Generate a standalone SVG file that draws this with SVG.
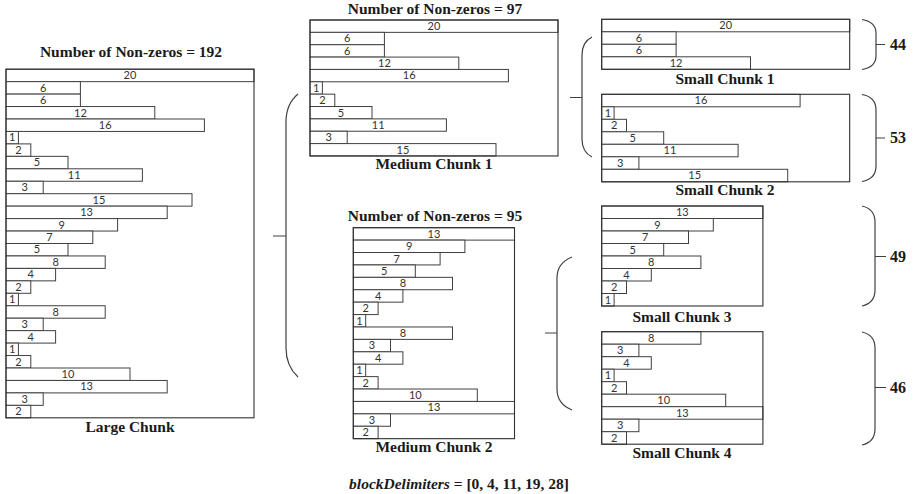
<svg xmlns="http://www.w3.org/2000/svg" width="917" height="494" viewBox="0 0 917 494">
<style>
.bg{fill:#fff}
.bar{fill:#fff;stroke:#404040;stroke-width:1}
.box{fill:none;stroke:#303030;stroke-width:1.1}
.n{font-family:Lato,"Liberation Sans",sans-serif;font-size:11px;fill:#333;text-anchor:middle}
.t{font-family:"Liberation Serif",serif;font-weight:bold;font-size:15.5px;fill:#1a1a1a;text-anchor:middle}
.k{font-family:"Liberation Serif",serif;font-weight:bold;font-size:16px;fill:#1a1a1a}
.br{fill:none;stroke:#404040;stroke-width:1.2}
</style>
<rect class="bg" x="0" y="0" width="917" height="494"/>

<g id="large-chunk">
<text class="t" x="131" y="57">Number of Non-zeros = 192</text>
<g transform="translate(6,69.2)">
<rect class="bar" x="0" y="0" width="248" height="12.45"/><text class="n" x="124" y="10">20</text>
<rect class="bar" x="0" y="12.45" width="74.4" height="12.45"/><text class="n" x="37.2" y="22.45">6</text>
<rect class="bar" x="0" y="24.9" width="74.4" height="12.45"/><text class="n" x="37.2" y="34.9">6</text>
<rect class="bar" x="0" y="37.35" width="148.8" height="12.45"/><text class="n" x="74.4" y="47.35">12</text>
<rect class="bar" x="0" y="49.8" width="198.4" height="12.45"/><text class="n" x="99.2" y="59.8">16</text>
<rect class="bar" x="0" y="62.25" width="12.4" height="12.45"/><text class="n" x="6.2" y="72.25">1</text>
<rect class="bar" x="0" y="74.7" width="24.8" height="12.45"/><text class="n" x="12.4" y="84.7">2</text>
<rect class="bar" x="0" y="87.15" width="62" height="12.45"/><text class="n" x="31" y="97.15">5</text>
<rect class="bar" x="0" y="99.6" width="136.4" height="12.45"/><text class="n" x="68.2" y="109.6">11</text>
<rect class="bar" x="0" y="112.05" width="37.2" height="12.45"/><text class="n" x="18.6" y="122.05">3</text>
<rect class="bar" x="0" y="124.5" width="186" height="12.45"/><text class="n" x="93" y="134.5">15</text>
<rect class="bar" x="0" y="136.95" width="161.2" height="12.45"/><text class="n" x="80.6" y="146.95">13</text>
<rect class="bar" x="0" y="149.4" width="111.6" height="12.45"/><text class="n" x="55.8" y="159.4">9</text>
<rect class="bar" x="0" y="161.85" width="86.8" height="12.45"/><text class="n" x="43.4" y="171.85">7</text>
<rect class="bar" x="0" y="174.3" width="62" height="12.45"/><text class="n" x="31" y="184.3">5</text>
<rect class="bar" x="0" y="186.75" width="99.2" height="12.45"/><text class="n" x="49.6" y="196.75">8</text>
<rect class="bar" x="0" y="199.2" width="49.6" height="12.45"/><text class="n" x="24.8" y="209.2">4</text>
<rect class="bar" x="0" y="211.65" width="24.8" height="12.45"/><text class="n" x="12.4" y="221.65">2</text>
<rect class="bar" x="0" y="224.1" width="12.4" height="12.45"/><text class="n" x="6.2" y="234.1">1</text>
<rect class="bar" x="0" y="236.55" width="99.2" height="12.45"/><text class="n" x="49.6" y="246.55">8</text>
<rect class="bar" x="0" y="249" width="37.2" height="12.45"/><text class="n" x="18.6" y="259">3</text>
<rect class="bar" x="0" y="261.45" width="49.6" height="12.45"/><text class="n" x="24.8" y="271.45">4</text>
<rect class="bar" x="0" y="273.9" width="12.4" height="12.45"/><text class="n" x="6.2" y="283.9">1</text>
<rect class="bar" x="0" y="286.35" width="24.8" height="12.45"/><text class="n" x="12.4" y="296.35">2</text>
<rect class="bar" x="0" y="298.8" width="124" height="12.45"/><text class="n" x="62" y="308.8">10</text>
<rect class="bar" x="0" y="311.25" width="161.2" height="12.45"/><text class="n" x="80.6" y="321.25">13</text>
<rect class="bar" x="0" y="323.7" width="37.2" height="12.45"/><text class="n" x="18.6" y="333.7">3</text>
<rect class="bar" x="0" y="336.15" width="24.8" height="12.45"/><text class="n" x="12.4" y="346.15">2</text>
<rect class="box" x="0" y="0" width="248" height="348.6"/>
</g>
<text class="t" x="130" y="432">Large Chunk</text>
</g>

<g id="medium-chunk-1">
<text class="t" x="435" y="14">Number of Non-zeros = 97</text>
<g transform="translate(310,20)">
<rect class="bar" x="0" y="0" width="248" height="12.36"/><text class="n" x="124" y="10">20</text>
<rect class="bar" x="0" y="12.36" width="74.4" height="12.36"/><text class="n" x="37.2" y="22.36">6</text>
<rect class="bar" x="0" y="24.72" width="74.4" height="12.36"/><text class="n" x="37.2" y="34.72">6</text>
<rect class="bar" x="0" y="37.08" width="148.8" height="12.36"/><text class="n" x="74.4" y="47.08">12</text>
<rect class="bar" x="0" y="49.44" width="198.4" height="12.36"/><text class="n" x="99.2" y="59.44">16</text>
<rect class="bar" x="0" y="61.8" width="12.4" height="12.36"/><text class="n" x="6.2" y="71.8">1</text>
<rect class="bar" x="0" y="74.16" width="24.8" height="12.36"/><text class="n" x="12.4" y="84.16">2</text>
<rect class="bar" x="0" y="86.52" width="62" height="12.36"/><text class="n" x="31" y="96.52">5</text>
<rect class="bar" x="0" y="98.88" width="136.4" height="12.36"/><text class="n" x="68.2" y="108.88">11</text>
<rect class="bar" x="0" y="111.24" width="37.2" height="12.36"/><text class="n" x="18.6" y="121.24">3</text>
<rect class="bar" x="0" y="123.6" width="186" height="12.36"/><text class="n" x="93" y="133.6">15</text>
<rect class="box" x="0" y="0" width="248" height="135.96"/>
</g>
<text class="t" x="434" y="169">Medium Chunk 1</text>
</g>

<g id="medium-chunk-2">
<text class="t" x="435" y="221">Number of Non-zeros = 95</text>
<g transform="translate(353.3,227.7)">
<rect class="bar" x="0" y="0" width="161.2" height="12.41"/><text class="n" x="80.6" y="10">13</text>
<rect class="bar" x="0" y="12.41" width="111.6" height="12.41"/><text class="n" x="55.8" y="22.41">9</text>
<rect class="bar" x="0" y="24.82" width="86.8" height="12.41"/><text class="n" x="43.4" y="34.82">7</text>
<rect class="bar" x="0" y="37.23" width="62" height="12.41"/><text class="n" x="31" y="47.23">5</text>
<rect class="bar" x="0" y="49.64" width="99.2" height="12.41"/><text class="n" x="49.6" y="59.64">8</text>
<rect class="bar" x="0" y="62.05" width="49.6" height="12.41"/><text class="n" x="24.8" y="72.05">4</text>
<rect class="bar" x="0" y="74.46" width="24.8" height="12.41"/><text class="n" x="12.4" y="84.46">2</text>
<rect class="bar" x="0" y="86.87" width="12.4" height="12.41"/><text class="n" x="6.2" y="96.87">1</text>
<rect class="bar" x="0" y="99.28" width="99.2" height="12.41"/><text class="n" x="49.6" y="109.28">8</text>
<rect class="bar" x="0" y="111.69" width="37.2" height="12.41"/><text class="n" x="18.6" y="121.69">3</text>
<rect class="bar" x="0" y="124.1" width="49.6" height="12.41"/><text class="n" x="24.8" y="134.1">4</text>
<rect class="bar" x="0" y="136.51" width="12.4" height="12.41"/><text class="n" x="6.2" y="146.51">1</text>
<rect class="bar" x="0" y="148.92" width="24.8" height="12.41"/><text class="n" x="12.4" y="158.92">2</text>
<rect class="bar" x="0" y="161.33" width="124" height="12.41"/><text class="n" x="62" y="171.33">10</text>
<rect class="bar" x="0" y="173.74" width="161.2" height="12.41"/><text class="n" x="80.6" y="183.74">13</text>
<rect class="bar" x="0" y="186.15" width="37.2" height="12.41"/><text class="n" x="18.6" y="196.15">3</text>
<rect class="bar" x="0" y="198.56" width="24.8" height="12.41"/><text class="n" x="12.4" y="208.56">2</text>
<rect class="box" x="0" y="0" width="161.2" height="210.97"/>
</g>
<text class="t" x="434" y="452">Medium Chunk 2</text>
</g>

<g id="small-chunk-1">
<g transform="translate(601.7,19.3)">
<rect class="bar" x="0" y="0" width="248" height="12.5"/><text class="n" x="124" y="10">20</text>
<rect class="bar" x="0" y="12.5" width="74.4" height="12.5"/><text class="n" x="37.2" y="22.5">6</text>
<rect class="bar" x="0" y="25" width="74.4" height="12.5"/><text class="n" x="37.2" y="35">6</text>
<rect class="bar" x="0" y="37.5" width="148.8" height="12.5"/><text class="n" x="74.4" y="47.5">12</text>
<rect class="box" x="0" y="0" width="248" height="50"/>
</g>
<text class="t" x="725" y="84">Small Chunk 1</text>
</g>

<g id="small-chunk-2">
<g transform="translate(601.7,94.3)">
<rect class="bar" x="0" y="0" width="198.4" height="12.5"/><text class="n" x="99.2" y="10">16</text>
<rect class="bar" x="0" y="12.5" width="12.4" height="12.5"/><text class="n" x="6.2" y="22.5">1</text>
<rect class="bar" x="0" y="25" width="24.8" height="12.5"/><text class="n" x="12.4" y="35">2</text>
<rect class="bar" x="0" y="37.5" width="62" height="12.5"/><text class="n" x="31" y="47.5">5</text>
<rect class="bar" x="0" y="50" width="136.4" height="12.5"/><text class="n" x="68.2" y="60">11</text>
<rect class="bar" x="0" y="62.5" width="37.2" height="12.5"/><text class="n" x="18.6" y="72.5">3</text>
<rect class="bar" x="0" y="75" width="186" height="12.5"/><text class="n" x="93" y="85">15</text>
<rect class="box" x="0" y="0" width="248" height="87.5"/>
</g>
<text class="t" x="725" y="195">Small Chunk 2</text>
</g>

<g id="small-chunk-3">
<g transform="translate(601.7,206)">
<rect class="bar" x="0" y="0" width="161.2" height="12.5"/><text class="n" x="80.6" y="10">13</text>
<rect class="bar" x="0" y="12.5" width="111.6" height="12.5"/><text class="n" x="55.8" y="22.5">9</text>
<rect class="bar" x="0" y="25" width="86.8" height="12.5"/><text class="n" x="43.4" y="35">7</text>
<rect class="bar" x="0" y="37.5" width="62" height="12.5"/><text class="n" x="31" y="47.5">5</text>
<rect class="bar" x="0" y="50" width="99.2" height="12.5"/><text class="n" x="49.6" y="60">8</text>
<rect class="bar" x="0" y="62.5" width="49.6" height="12.5"/><text class="n" x="24.8" y="72.5">4</text>
<rect class="bar" x="0" y="75" width="24.8" height="12.5"/><text class="n" x="12.4" y="85">2</text>
<rect class="bar" x="0" y="87.5" width="12.4" height="12.5"/><text class="n" x="6.2" y="97.5">1</text>
<rect class="box" x="0" y="0" width="161.2" height="100"/>
</g>
<text class="t" x="682" y="322">Small Chunk 3</text>
</g>

<g id="small-chunk-4">
<g transform="translate(601.7,331.7)">
<rect class="bar" x="0" y="0" width="99.2" height="12.5"/><text class="n" x="49.6" y="10">8</text>
<rect class="bar" x="0" y="12.5" width="37.2" height="12.5"/><text class="n" x="18.6" y="22.5">3</text>
<rect class="bar" x="0" y="25" width="49.6" height="12.5"/><text class="n" x="24.8" y="35">4</text>
<rect class="bar" x="0" y="37.5" width="12.4" height="12.5"/><text class="n" x="6.2" y="47.5">1</text>
<rect class="bar" x="0" y="50" width="24.8" height="12.5"/><text class="n" x="12.4" y="60">2</text>
<rect class="bar" x="0" y="62.5" width="124" height="12.5"/><text class="n" x="62" y="72.5">10</text>
<rect class="bar" x="0" y="75" width="161.2" height="12.5"/><text class="n" x="80.6" y="85">13</text>
<rect class="bar" x="0" y="87.5" width="37.2" height="12.5"/><text class="n" x="18.6" y="97.5">3</text>
<rect class="bar" x="0" y="100" width="24.8" height="12.5"/><text class="n" x="12.4" y="110">2</text>
<rect class="box" x="0" y="0" width="161.2" height="112.5"/>
</g>
<text class="t" x="682" y="458">Small Chunk 4</text>
</g>

<g id="connectors">
<path class="br" d="M298,94 Q286,104 286,122 L286,348 Q286,366 298,377 M273,236 L286,236"/>
<path class="br" d="M592,37 Q582,42 582,55 L582,139 Q582,152 592,157 M570,97.5 L582,97.5"/>
<path class="br" d="M572,257 Q557,263 557,278 L557,389 Q557,404 572,410 M545,333 L557,333"/>
<path class="br" d="M862,19.5 Q876,22 876,33 L876,56 Q876,67 862,69.5 M876,44.5 L885,44.5"/>
<path class="br" d="M862,94.5 Q876,97 876,110 L876,166 Q876,179 862,181.5 M876,138 L885,138"/>
<path class="br" d="M862,206 Q875,209 875,222 L875,290 Q875,303 862,306 M875,256.5 L886,256.5"/>
<path class="br" d="M862,332 Q875,335 875,348 L875,429 Q875,442 862,445 M875,387.5 L886,387.5"/>
</g>

<g id="counts">
<text class="k" x="890" y="50">44</text>
<text class="k" x="890" y="143">53</text>
<text class="k" x="890" y="262">49</text>
<text class="k" x="890" y="393">46</text>
</g>

<text class="t" x="459" y="489"><tspan font-style="italic">blockDelimiters</tspan> = [0, 4, 11, 19, 28]</text>
</svg>
